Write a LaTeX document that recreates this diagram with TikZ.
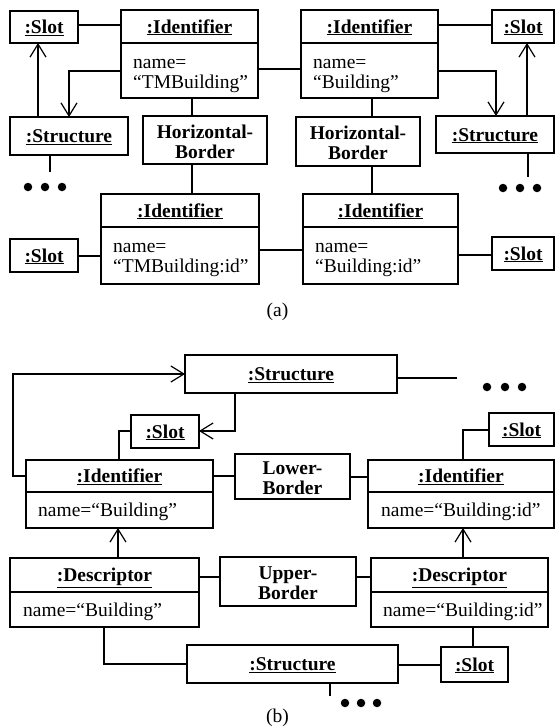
\documentclass[tikz,border=0pt]{standalone}
\usepackage{fontspec}
\setmainfont{Liberation Serif}
\usetikzlibrary{arrows.meta}
\newcommand\mybox[5]{\node[objbox, minimum width={(#4-#2)*1pt}, minimum height={(#5-#3)*1pt}] (#1) at ({(#2+#4)/2},{(#3+#5)/2}) {};}
\begin{document}
\begin{tikzpicture}[x=1pt,y=-1pt,
  objbox/.style={draw, line width=1.2pt, inner sep=0pt, outer sep=0pt},
  hdr/.style={font=\fontsize{19.5}{20}\selectfont\bfseries, anchor=base, inner sep=0pt},
  attr/.style={font=\fontsize{19.5}{20}\selectfont, anchor=base west, inner sep=0pt},
  captext/.style={font=\fontsize{19.5}{20}\selectfont, anchor=base, inner sep=0pt},
  conn/.style={line width=1.2pt},
  myarrow/.style={line width=1.2pt, -{Straight Barb[length=13pt,width=16pt,line width=1.2pt]}},
  dotnode/.style={circle, fill=black, minimum size=8.5pt, inner sep=0pt}]
\useasboundingbox (0,0) rectangle (555,728);
% ---------------- (a) ----------------
\mybox{slotA1}{10}{11}{78}{43}
\node[hdr] (slotA1t) at (44,33.5) {\underline{:Slot}};
\mybox{idA1}{121}{10}{258}{98}
\draw[conn] (idA1.west |- 0,43) -- (idA1.east |- 0,43);
\node[hdr] (idA1h) at (189.5,33) {\underline{:Identifier}};
\node[attr] (idA1a) at (133,68) {name=};
\node[attr] (idA1b) at (133,88) {“TMBuilding”};
\mybox{idA2}{301}{10}{438}{98}
\draw[conn] (idA2.west |- 0,43) -- (idA2.east |- 0,43);
\node[hdr] (idA2h) at (369.5,33) {\underline{:Identifier}};
\node[attr] (idA2a) at (313,68) {name=};
\node[attr] (idA2b) at (313,88) {“Building”};
\mybox{slotA2}{492}{10}{554}{43}
\node[hdr] (slotA2t) at (523,33) {\underline{:Slot}};
\mybox{strA1}{10}{117}{128}{155}
\node[hdr] (strA1t) at (69,142.5) {\underline{:Structure}};
\mybox{strA2}{436}{116}{554}{153}
\node[hdr] (strA2t) at (495,141) {\underline{:Structure}};
\mybox{hbA1}{143}{116}{267}{164}
\node[hdr] (hbA1a) at (205,138) {Horizontal-};
\node[hdr] (hbA1b) at (205,158) {Border};
\mybox{hbA2}{296}{117}{420}{166}
\node[hdr] (hbA2a) at (358,139.5) {Horizontal-};
\node[hdr] (hbA2b) at (358,159.5) {Border};
\mybox{idA3}{101}{194}{259}{284}
\draw[conn] (idA3.west |- 0,227) -- (idA3.east |- 0,227);
\node[hdr] (idA3h) at (180,217) {\underline{:Identifier}};
\node[attr] (idA3a) at (113,252) {name=};
\node[attr] (idA3b) at (113,272) {“TMBuilding:id”};
\mybox{idA4}{303}{194}{458}{284}
\draw[conn] (idA4.west |- 0,227) -- (idA4.east |- 0,227);
\node[hdr] (idA4h) at (380.5,217) {\underline{:Identifier}};
\node[attr] (idA4a) at (315,252) {name=};
\node[attr] (idA4b) at (315,272) {“Building:id”};
\mybox{slotA3}{10}{239}{78}{272}
\node[hdr] (slotA3t) at (44,262) {\underline{:Slot}};
\mybox{slotA4}{492}{237}{554}{270}
\node[hdr] (slotA4t) at (523,260) {\underline{:Slot}};
% connectors (a)
\draw[conn] (slotA1.east |- 0,25) -- (idA1.west |- 0,25);
\draw[conn] (idA1.east |- 0,69) -- (idA2.west |- 0,69);
\draw[conn] (idA2.east |- 0,25) -- (slotA2.west |- 0,25);
\draw[myarrow] (idA1.west |- 0,71) -| (strA1.north -| 69,0);
\draw[myarrow] (strA1.north -| 38,0) -- (slotA1.south -| 38,0);
\coordinate (endA1) at (50,172);
\draw[conn] (strA1.south -| 50,0) -- (endA1);
\node[dotnode] (dA1) at (28,187) {};
\node[dotnode] (dA2) at (45,187) {};
\node[dotnode] (dA3) at (62,187) {};
\draw[myarrow] (idA2.east |- 0,71) -| (strA2.north -| 496,0);
\draw[myarrow] (strA2.north -| 527,0) -- (slotA2.south -| 527,0);
\coordinate (endA2) at (528,177);
\draw[conn] (strA2.south -| 528,0) -- (endA2);
\node[dotnode] (dA4) at (503,188) {};
\node[dotnode] (dA5) at (520,188) {};
\node[dotnode] (dA6) at (537,188) {};
\draw[conn] (idA1.south -| 192,0) -- (hbA1.north -| 192,0);
\draw[conn] (hbA1.south -| 192,0) -- (idA3.north -| 192,0);
\draw[conn] (idA2.south -| 372,0) -- (hbA2.north -| 372,0);
\draw[conn] (hbA2.south -| 372,0) -- (idA4.north -| 372,0);
\draw[conn] (slotA3.east |- 0,256) -- (idA3.west |- 0,256);
\draw[conn] (idA3.east |- 0,250) -- (idA4.west |- 0,250);
\draw[conn] (idA4.east |- 0,255) -- (slotA4.west |- 0,255);
\node[captext] (capa) at (277.5,316) {(a)};
% ---------------- (b) ----------------
\mybox{strB1}{185}{355}{397}{393}
\node[hdr] (strB1t) at (291,380.5) {\underline{:Structure}};
\mybox{slotB1}{131}{415}{199}{448}
\node[hdr] (slotB1t) at (165,438) {\underline{:Slot}};
\mybox{idB1}{26}{460}{213}{528}
\draw[conn] (idB1.west |- 0,492) -- (idB1.east |- 0,492);
\node[hdr] (idB1h) at (119.5,482.5) {\underline{:Identifier}};
\node[attr] (idB1a) at (38,516.5) {name=“Building”};
\mybox{lbB}{235}{454}{350}{499}
\node[hdr] (lbBa) at (292.5,474.5) {Lower-};
\node[hdr] (lbBb) at (292.5,494.5) {Border};
\mybox{idB2}{368}{460}{554}{528}
\draw[conn] (idB2.west |- 0,492) -- (idB2.east |- 0,492);
\node[hdr] (idB2h) at (461,482.5) {\underline{:Identifier}};
\node[attr] (idB2a) at (381,516.5) {name=“Building:id”};
\mybox{slotB2}{489}{413}{554}{446}
\node[hdr] (slotB2t) at (521.5,436) {\underline{:Slot}};
\mybox{descB1}{10}{558}{199}{627}
\draw[conn] (descB1.west |- 0,592) -- (descB1.east |- 0,592);
\node[hdr] (descB1h) at (104.5,581.5) {\underline{:Descriptor}};
\node[attr] (descB1a) at (23,616) {name=“Building”};
\mybox{ubB}{220}{557}{356}{606}
\node[hdr] (ubBa) at (288,579.5) {Upper-};
\node[hdr] (ubBb) at (288,599.5) {Border};
\mybox{descB2}{371}{558}{548}{627}
\draw[conn] (descB2.west |- 0,592) -- (descB2.east |- 0,592);
\node[hdr] (descB2h) at (459.5,581.5) {\underline{:Descriptor}};
\node[attr] (descB2a) at (383,616) {name=“Building:id”};
\mybox{strB2}{187}{645}{398}{683}
\node[hdr] (strB2t) at (292.5,670.5) {\underline{:Structure}};
\mybox{slotB3}{441}{647}{508}{682}
\node[hdr] (slotB3t) at (474.5,671) {\underline{:Slot}};
% connectors (b)
\draw[myarrow] (idB1.west |- 0,476) -- (13,476) -- (13,374) -- (strB1.west |- 0,374);
\draw[myarrow] (strB1.south -| 235,0) |- (slotB1.east |- 0,431);
\draw[conn] (slotB1.west |- 0,431) -| (idB1.north -| 119,0);
\coordinate (endB1) at (457,378);
\draw[conn] (strB1.east |- 0,378) -- (endB1);
\node[dotnode] (dB1) at (487,387) {};
\node[dotnode] (dB2) at (505,387) {};
\node[dotnode] (dB3) at (522,387) {};
\draw[conn] (idB1.east |- 0,476) -- (lbB.west |- 0,476);
\draw[conn] (lbB.east |- 0,477) -- (idB2.west |- 0,477);
\draw[conn] (slotB2.west |- 0,430) -| (idB2.north -| 463,0);
\draw[myarrow] (descB1.north -| 118,0) -- (idB1.south -| 118,0);
\draw[myarrow] (descB2.north -| 463,0) -- (idB2.south -| 463,0);
\draw[conn] (descB1.east |- 0,577) -- (ubB.west |- 0,577);
\draw[conn] (ubB.east |- 0,577) -- (descB2.west |- 0,577);
\draw[conn] (descB1.south -| 104,0) |- (strB2.west |- 0,664);
\draw[conn] (strB2.east |- 0,665) -- (slotB3.west |- 0,665);
\draw[conn] (descB2.south -| 473,0) -- (slotB3.north -| 473,0);
\coordinate (endB2) at (330,696);
\draw[conn] (strB2.south -| 330,0) -- (endB2);
\node[dotnode] (dB4) at (345,703) {};
\node[dotnode] (dB5) at (361,703) {};
\node[dotnode] (dB6) at (377,703) {};
\node[captext] (capb) at (277.5,722) {(b)};
\end{tikzpicture}
\end{document}
